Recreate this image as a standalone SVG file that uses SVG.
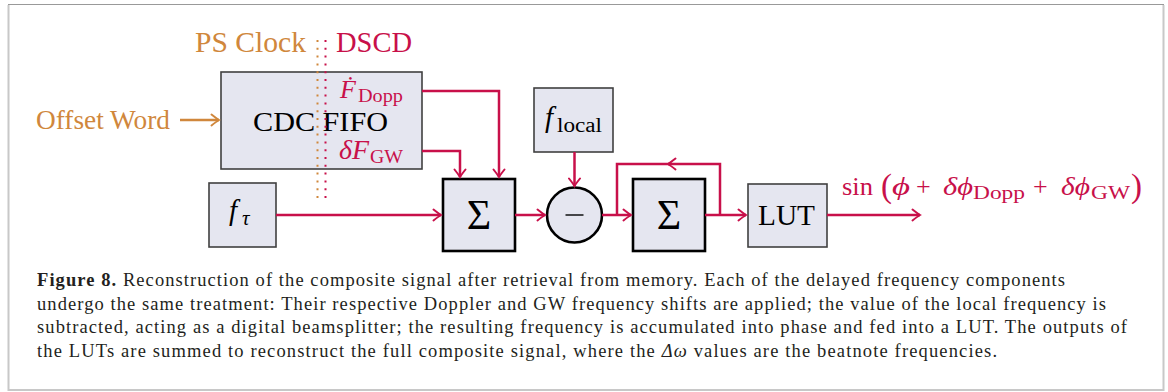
<svg xmlns="http://www.w3.org/2000/svg" width="1168" height="392" viewBox="0 0 1168 392">
<style>
.box{fill:#e5e6f0;stroke:#404040;stroke-width:1.6}
.bold{fill:#e5e6f0;stroke:#000;stroke-width:2.6}
.red{fill:none;stroke:#c8104a;stroke-width:2.5}
.org{fill:none;stroke:#d0873c;stroke-width:2.5}
.t{font-family:"Liberation Serif","Times New Roman",serif}
.i{font-style:italic}
.cr{fill:#c8104a}
.or{fill:#d0873c}
.cap{font-family:"Liberation Serif","Times New Roman",serif;font-size:18.5px;fill:#231f20}
</style>
<defs>
<marker id="ar" viewBox="-9 -7 11 14" refX="0" refY="0" markerWidth="11" markerHeight="14" markerUnits="userSpaceOnUse" orient="auto">
<path d="M-7.5,-5.5 Q-2.5,-1.5 0,0 Q-2.5,1.5 -7.5,5.5" fill="none" stroke="#c8104a" stroke-width="2" stroke-linecap="round"/>
</marker>
<marker id="ao" viewBox="-9 -7 11 14" refX="0" refY="0" markerWidth="11" markerHeight="14" markerUnits="userSpaceOnUse" orient="auto">
<path d="M-7.5,-5.5 Q-2.5,-1.5 0,0 Q-2.5,1.5 -7.5,5.5" fill="none" stroke="#d0873c" stroke-width="2" stroke-linecap="round"/>
</marker>
</defs>
<rect x="0" y="0" width="1168" height="392" fill="#fff"/>
<g id="frame">
<path d="M8.5,5 V390 H1163.5 V5" fill="none" stroke="#c8c8c8" stroke-width="2"/>
<path d="M8,4.5 H1164" fill="none" stroke="#999" stroke-width="1"/>
</g>
<g id="labels-top">
<text class="t or" x="195" y="52" font-size="28.5" textLength="111" lengthAdjust="spacingAndGlyphs">PS Clock</text>
<text class="t cr" x="336" y="52" font-size="28.5" textLength="76" lengthAdjust="spacingAndGlyphs">DSCD</text>
<text class="t or" x="36" y="129" font-size="27" textLength="134" lengthAdjust="spacingAndGlyphs">Offset Word</text>
</g>
<g id="cdc">
<rect class="box" x="221" y="72" width="201" height="97"/>
<text class="t" x="253" y="130.5" font-size="28" textLength="135" lengthAdjust="spacingAndGlyphs">CDC FIFO</text>
<text class="t cr" y="98"><tspan class="i" x="340" font-size="26">Ḟ</tspan><tspan x="358" y="101.5" font-size="18.5" textLength="45" lengthAdjust="spacingAndGlyphs">Dopp</tspan></text>
<text class="t cr" y="159"><tspan class="i" x="339" font-size="27" textLength="30" lengthAdjust="spacingAndGlyphs">δF</tspan><tspan x="370" y="163" font-size="19" textLength="33" lengthAdjust="spacingAndGlyphs">GW</tspan></text>
</g>
<g id="clock-boundary">
<line x1="317.5" y1="40" x2="317.5" y2="199" stroke="#d0873c" stroke-width="2" stroke-dasharray="2 5.8"/>
<line x1="325.5" y1="40" x2="325.5" y2="199" stroke="#c8104a" stroke-width="2" stroke-dasharray="2 5.8"/>
</g>
<g id="ftau">
<rect class="box" x="209" y="183" width="67" height="64"/>
<text class="t i" x="229" y="220" font-size="29">f</text>
<text class="t i" x="242" y="225" font-size="21">τ</text>
</g>
<g id="sum1">
<rect class="bold" x="443" y="179" width="72" height="72"/>
<text class="t" x="479" y="229" font-size="42" text-anchor="middle">Σ</text>
</g>
<g id="flocal">
<rect class="box" x="534" y="88" width="79" height="64"/>
<text class="t i" x="545" y="127" font-size="29">f</text>
<text class="t" x="557" y="131.5" font-size="20.5" textLength="45" lengthAdjust="spacingAndGlyphs">local</text>
</g>
<g id="sub">
<circle cx="574.5" cy="215" r="27.5" fill="#e5e6f0" stroke="#000" stroke-width="2.6"/>
<line x1="565.5" y1="215" x2="583.5" y2="215" stroke="#000" stroke-width="1.4"/>
</g>
<g id="sum2">
<rect class="bold" x="633" y="179" width="72" height="72"/>
<text class="t" x="669" y="229" font-size="42" text-anchor="middle">Σ</text>
</g>
<g id="lut">
<rect class="box" x="748" y="184" width="79" height="63"/>
<text class="t" x="758" y="225" font-size="29" textLength="57" lengthAdjust="spacingAndGlyphs">LUT</text>
</g>
<g id="connectors">
<path class="org" d="M180,120 H219" marker-end="url(#ao)"/>
<path class="red" d="M422,91 H499 V177" marker-end="url(#ar)"/>
<path class="red" d="M422,151 H460 V177" marker-end="url(#ar)"/>
<path class="red" d="M276,215 H441" marker-end="url(#ar)"/>
<path class="red" d="M515,215 H545" marker-end="url(#ar)"/>
<path class="red" d="M574.5,152 V186" marker-end="url(#ar)"/>
<path class="red" d="M602,215 H631" marker-end="url(#ar)"/>
<path class="red" d="M720,215 V164 H668" marker-end="url(#ar)"/>
<path class="red" d="M670,164 H617 V215"/>
<path class="red" d="M705,215 H746" marker-end="url(#ar)"/>
<path class="red" d="M827,215 H920" marker-end="url(#ar)"/>
</g>
<g id="output-label" class="t cr">
<text y="195" font-size="26"><tspan x="842" textLength="31" lengthAdjust="spacingAndGlyphs">sin</tspan><tspan x="881" y="197" font-size="33">(</tspan><tspan class="i" x="892" y="195" textLength="18" lengthAdjust="spacingAndGlyphs">ϕ</tspan><tspan x="916">+</tspan><tspan class="i" x="943" textLength="30" lengthAdjust="spacingAndGlyphs">δϕ</tspan><tspan x="973" y="199" font-size="19" textLength="52" lengthAdjust="spacingAndGlyphs">Dopp</tspan><tspan x="1033" y="195">+</tspan><tspan class="i" x="1061" textLength="29" lengthAdjust="spacingAndGlyphs">δϕ</tspan><tspan x="1091" y="199" font-size="19" textLength="39" lengthAdjust="spacingAndGlyphs">GW</tspan><tspan x="1131" y="197" font-size="33">)</tspan></text>
</g>
<g id="caption">
<text class="cap" x="37" y="286" textLength="1028" lengthAdjust="spacing"><tspan font-weight="bold">Figure 8.</tspan> Reconstruction of the composite signal after retrieval from memory. Each of the delayed frequency components</text>
<text class="cap" x="37" y="309.5" textLength="1069" lengthAdjust="spacing">undergo the same treatment: Their respective Doppler and GW frequency shifts are applied; the value of the local frequency is</text>
<text class="cap" x="37" y="333" textLength="1090" lengthAdjust="spacing">subtracted, acting as a digital beamsplitter; the resulting frequency is accumulated into phase and fed into a LUT. The outputs of</text>
<text class="cap" x="37" y="356.5" textLength="960" lengthAdjust="spacing">the LUTs are summed to reconstruct the full composite signal, where the <tspan font-style="italic">Δω</tspan> values are the beatnote frequencies.</text>
</g>
</svg>
